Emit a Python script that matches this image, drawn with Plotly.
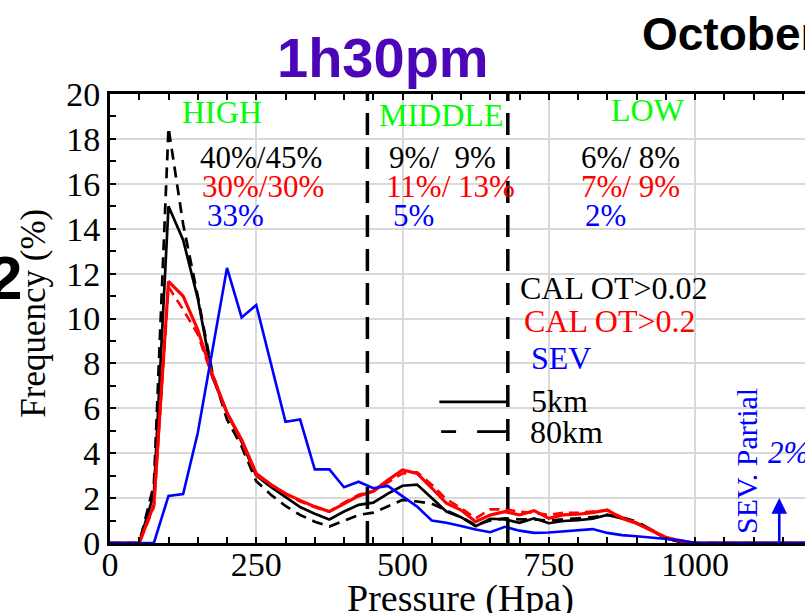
import plotly.graph_objects as go

# Pressure bins (hPa)
pressure = list(range(0, 1201, 25))

# Cloud-top frequency (%) per pressure bin
cal_5km_ot002 = [0, 0, 0, 2.2, 15.0, 13.5, 10.9, 7.4, 5.8, 4.5, 3.0, 2.5, 2.05, 1.6, 1.3, 1.05,
                 1.4, 1.7, 1.8, 2.2, 2.55, 2.6, 2.0, 1.4, 1.15, 0.75, 1.08, 1.05, 0.9, 1.1, 0.88,
                 0.98, 1.02, 1.08, 1.25, 1.1, 0.88, 0.58, 0.21, 0.05, 0,
                 0, 0, 0, 0, 0, 0, 0, 0]
cal_80km_ot002 = [0, 0, 0, 2.6, 18.5, 14.2, 11.0, 7.6, 5.5, 4.3, 2.75, 2.15, 1.65, 1.25, 0.95, 0.73,
                  1.0, 1.25, 1.35, 1.62, 1.92, 1.85, 1.75, 1.45, 1.15, 0.8, 1.0, 1.1, 1.05, 1.05, 1.0,
                  1.05, 1.1, 1.15, 1.25, 1.15, 0.95, 0.6, 0.2, 0.05, 0,
                  0, 0, 0, 0, 0, 0, 0, 0]
cal_5km_ot02 = [0, 0, 0, 1.7, 11.65, 11.0, 9.5, 7.5, 5.8, 4.6, 3.1, 2.6, 2.2, 1.9, 1.62, 1.4,
                1.77, 2.1, 2.3, 2.8, 3.25, 3.1, 2.45, 1.77, 1.47, 0.95, 1.25, 1.4, 1.25, 1.44, 1.1,
                1.25, 1.28, 1.35, 1.47, 1.1, 0.88, 0.58, 0.25, 0.1, 0,
                0, 0, 0, 0, 0, 0, 0, 0]
cal_80km_ot02 = [0, 0, 0, 1.6, 11.4, 10.4, 9.3, 7.4, 5.8, 4.5, 3.0, 2.6, 2.2, 1.85, 1.6, 1.4,
                 1.8, 2.15, 2.3, 2.7, 3.1, 3.15, 2.6, 1.95, 1.55, 1.1, 1.5, 1.5, 1.4, 1.35, 1.25,
                 1.35, 1.35, 1.4, 1.45, 1.15, 0.9, 0.6, 0.25, 0.08, 0,
                 0, 0, 0, 0, 0, 0, 0, 0]
sev = [0, 0, 0, 0, 2.1, 2.18, 4.9, 8.6, 12.25, 10.05, 10.6, 8.0, 5.4, 5.5, 3.28, 3.28,
       2.48, 2.73, 2.44, 2.54, 2.06, 1.62, 1.0, 0.9, 0.76, 0.6, 0.48, 0.72, 0.55, 0.45, 0.47,
       0.53, 0.58, 0.62, 0.45, 0.35, 0.3, 0.25, 0.18, 0.12, 0,
       0, 0, 0, 0, 0, 0, 0, 0]

# Layer boundaries (hPa) and layer labels
boundaries = [440, 680]
layers = ["HIGH", "MIDDLE", "LOW"]
layer_x = [192, 565, 920]
layer_y = [19.2, 19.05, 19.3]

# Per-layer percentages: CAL OT>0.02 (5km/80km), CAL OT>0.2 (5km/80km), SEV
pct_black = ["40%/45%", "9%/\u00a0\u00a09%", "6%/ 8%"]
pct_red = ["30%/30%", "11%/ 13%", "7%/ 9%"]
pct_blue = ["33%", "5%", "2%"]
pct_x_black = [150, 474, 802]
pct_x_red = [153, 469, 802]
pct_x_blue = [162, 481, 809]

sev_partial = 2.0
sev_partial_p = 1144

SERIF = "Liberation Serif, Times New Roman, serif"
SANS = "Liberation Sans, Arial, sans-serif"

fig = go.Figure()

series = [
    (cal_5km_ot002, "black", 2.7, "solid"),
    (cal_80km_ot002, "black", 2.7, "11px,7px"),
    (cal_5km_ot02, "red", 3.2, "solid"),
    (cal_80km_ot02, "red", 2.6, "10px,6px"),
    (sev, "blue", 2.6, "solid"),
]
for vals, col, w, dash in series:
    fig.add_trace(go.Scatter(x=pressure, y=vals, mode="lines",
                             line=dict(color=col, width=w, dash=dash),
                             showlegend=False, hoverinfo="skip"))

shapes = []
for b in boundaries:
    shapes.append(dict(type="line", xref="x", yref="y", x0=b, x1=b, y0=0, y1=20,
                       line=dict(color="black", width=3.5, dash="22px,12px")))
# legend line samples
shapes.append(dict(type="line", xref="x", yref="y", x0=563, x1=680, y0=6.29, y1=6.29,
                   line=dict(color="black", width=2.8)))
shapes.append(dict(type="line", xref="x", yref="y", x0=566, x1=680, y0=4.96, y1=4.96,
                   line=dict(color="black", width=2.8, dash="15px,21px,30px,40px")))

ann = []
for name, x, y in zip(layers, layer_x, layer_y):
    ann.append(dict(x=x, y=y, xref="x", yref="y", text=name, showarrow=False,
                    font=dict(family=SERIF, size=32, color="#00ff00")))
for texts, xs, y, col in [(pct_black, pct_x_black, 17.19, "black"),
                          (pct_red, pct_x_red, 15.88, "red"),
                          (pct_blue, pct_x_blue, 14.57, "blue")]:
    for t, x in zip(texts, xs):
        ann.append(dict(x=x, y=y, xref="x", yref="y", text=t, showarrow=False,
                        xanchor="left", font=dict(family=SERIF, size=31, color=col)))

for t, x, y, col in [("CAL OT&gt;0.02", 698, 11.36, "black"),
                     ("CAL OT&gt;0.2", 705, 9.89, "red"),
                     ("SEV", 717, 8.24, "blue"),
                     ("5km", 717, 6.33, "black"),
                     ("80km", 714, 4.94, "black")]:
    ann.append(dict(x=x, y=y, xref="x", yref="y", text=t, showarrow=False,
                    xanchor="left", font=dict(family=SERIF, size=32, color=col)))

ann.append(dict(x=1087, y=3.65, xref="x", yref="y", text="SEV. Partial", textangle=-90,
                showarrow=False, font=dict(family=SERIF, size=30, color="blue")))
ann.append(dict(x=1122, y=4.05, xref="x", yref="y", text="<i>%g%%</i>" % sev_partial,
                xanchor="left", showarrow=False, font=dict(family=SERIF, size=31, color="blue")))
ann.append(dict(x=sev_partial_p, y=sev_partial, ax=sev_partial_p, ay=0, xref="x", yref="y",
                axref="x", ayref="y", text="", showarrow=True, arrowhead=2, arrowsize=1.2,
                arrowwidth=2.6, arrowcolor="blue"))

# titles
ann.append(dict(x=0.393, y=1.082, xref="paper", yref="paper", text="<b>1h30pm</b>",
                xanchor="center", yanchor="middle", showarrow=False,
                font=dict(family=SANS, size=56, color="#4a06b8")))
ann.append(dict(x=0.7626, y=1.134, xref="paper", yref="paper", text="<b>October</b>",
                xanchor="left", yanchor="middle", showarrow=False,
                font=dict(family=SANS, size=46, color="black")))
ann.append(dict(x=-0.124, y=0.592, xref="paper", yref="paper", text="<b>2</b>",
                xanchor="right", yanchor="middle", showarrow=False,
                font=dict(family=SANS, size=62, color="black")))
ann.append(dict(x=-0.11, y=0.512, xref="paper", yref="paper", text="Frequency (%)",
                textangle=-90, xanchor="center", yanchor="middle", showarrow=False,
                font=dict(family=SERIF, size=35, color="black")))
ann.append(dict(x=0.505, y=-0.123, xref="paper", yref="paper", text="Pressure (Hpa)",
                xanchor="center", yanchor="middle", showarrow=False,
                font=dict(family=SERIF, size=38, color="black")))

tickstyle = dict(ticks="inside", ticklen=6, tickwidth=2, tickcolor="black")

fig.update_layout(
    width=805, height=613,
    margin=dict(l=110, r=0, t=94, b=70),
    paper_bgcolor="white", plot_bgcolor="white",
    shapes=shapes, annotations=ann,
    xaxis=dict(range=[0, 1188], tick0=0, dtick=250, showline=True, linecolor="black",
               linewidth=3, mirror="ticks", zeroline=False, showgrid=True,
               gridcolor="#d9d9d9", gridwidth=2, ticklabelstandoff=-11,
               tickfont=dict(family=SERIF, size=34, color="black"),
               minor=dict(dtick=50, showgrid=False, **tickstyle), **tickstyle),
    yaxis=dict(range=[0, 20], tick0=0, dtick=2, showline=True, linecolor="black",
               linewidth=3, mirror=False, zeroline=False, showgrid=True,
               gridcolor="#d9d9d9", gridwidth=2,
               tickfont=dict(family=SERIF, size=34, color="black"),
               minor=dict(dtick=1, showgrid=False, **tickstyle), **tickstyle),
    yaxis2=dict(range=[0, 20], overlaying="y", side="right", anchor="x", tick0=0, dtick=2,
                showline=False, showgrid=False, zeroline=False, showticklabels=False,
                minor=dict(dtick=1, showgrid=False, **tickstyle), **tickstyle),
)

fig.write_html("out.html")
